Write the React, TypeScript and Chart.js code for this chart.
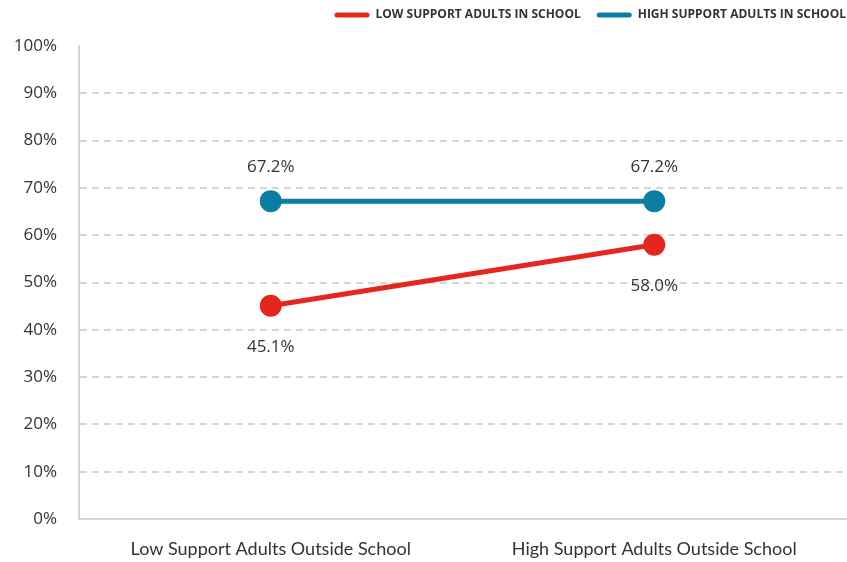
import React, { useEffect, useRef } from "react";
import { Chart, registerables } from "chart.js";

Chart.register(...registerables);

const categories = ["Low Support Adults Outside School", "High Support Adults Outside School"];
const lowSupportInSchool = [45.1, 58.0];
const highSupportInSchool = [67.2, 67.2];
const seriesNames = ["LOW SUPPORT ADULTS IN SCHOOL", "HIGH SUPPORT ADULTS IN SCHOOL"];
const yTicks = [0, 10, 20, 30, 40, 50, 60, 70, 80, 90, 100];

const RED = "#E5261F";
const BLUE = "#0A7EA3";

const dataLabelPlugin = {
  id: "dataLabels",
  afterDatasetsDraw(chart: any) {
    const ctx = chart.ctx;
    ctx.save();
    ctx.font = "17px 'Open Sans'";
    ctx.fillStyle = "#333";
    ctx.textAlign = "center";
    ctx.textBaseline = "middle";
    chart.data.datasets.forEach((ds: any, di: number) => {
      const meta = chart.getDatasetMeta(di);
      meta.data.forEach((pt: any, i: number) => {
        const v = ds.data[i];
        const off = ds.labelPos === "above" ? -34 : 41;
        ctx.fillText(v.toFixed(1) + "%", pt.x, pt.y + off);
      });
    });
    ctx.restore();
  },
};

const legendTweakPlugin = {
  id: "legendTweak",
  beforeInit(chart: any) {
    const legend = chart.legend;
    if (!legend) return;
    const origFit = legend.fit;
    legend.fit = function () {
      origFit.call(this);
      this.height = 53;
    };
    const origDraw = legend.draw;
    legend.draw = function () {
      const r = this.right;
      this.right = r + 16;
      try {
        origDraw.call(this);
      } finally {
        this.right = r;
      }
    };
  },
};

export default function App() {
  const ref = useRef<HTMLCanvasElement>(null);
  useEffect(() => {
    document.body.style.margin = "0";
    const chart = new Chart(ref.current!, {
      type: "line",
      data: {
        labels: categories,
        datasets: [
          {
            label: seriesNames[0],
            data: lowSupportInSchool,
            borderColor: RED,
            backgroundColor: RED,
            pointBackgroundColor: RED,
            pointBorderColor: RED,
            borderWidth: 5,
            pointRadius: 8.5,
            labelPos: "below",
          } as any,
          {
            label: seriesNames[1],
            data: highSupportInSchool,
            borderColor: BLUE,
            backgroundColor: BLUE,
            pointBackgroundColor: BLUE,
            pointBorderColor: BLUE,
            borderWidth: 5,
            pointRadius: 8.5,
            labelPos: "above",
          } as any,
        ],
      },
      options: {
        responsive: false,
        animation: false,
        layout: { autoPadding: false, padding: { left: 0, right: 1, top: -7, bottom: 0 } },
        plugins: {
          tooltip: { enabled: false },
          legend: {
            position: "top",
            align: "end",
            labels: {
              boxWidth: 35,
              boxHeight: 5,
              useBorderRadius: true,
              borderRadius: 2.5,
              color: "#333",
              font: { family: "'Open Sans'", size: 12, weight: "bold" },
              padding: 16,
              generateLabels(chart: any) {
                const items = Chart.defaults.plugins.legend.labels.generateLabels(chart);
                return items.map((it: any) => ({ ...it, lineWidth: 0, strokeStyle: "rgba(0,0,0,0)" }));
              },
            },
          },
        },
        scales: {
          x: {
            offset: true,
            grid: { display: false, drawTicks: false },
            border: { display: true, color: "#d6d6d6", width: 2 },
            afterFit(axis: any) {
              axis.height = 43;
            },
            ticks: {
              color: "#333",
              font: { family: "Lato", size: 18 },
              padding: 19,
            },
          },
          y: {
            min: 0,
            max: 100,
            afterBuildTicks(axis: any) {
              axis.ticks = yTicks.map((v) => ({ value: v }));
            },
            afterFit(axis: any) {
              axis.width = 79;
            },
            grid: {
              drawTicks: false,
              lineWidth: 2,
              color: (c: any) => (c.tick && (c.tick.value === 100 || c.tick.value === 0) ? "rgba(0,0,0,0)" : "#d6d6d6"),
            },
            border: { display: true, color: "#d6d6d6", width: 2, dash: [7, 5] as any },
            ticks: {
              color: "#333",
              font: { family: "'Open Sans'", size: 17 },
              padding: 22,
              callback: (v: any) => v + "%",
            },
          },
        },
      } as any,
      plugins: [dataLabelPlugin, legendTweakPlugin],
    });
    return () => chart.destroy();
  }, []);
  return <canvas ref={ref} width={847} height={562} style={{ display: "block" }} />;
}
